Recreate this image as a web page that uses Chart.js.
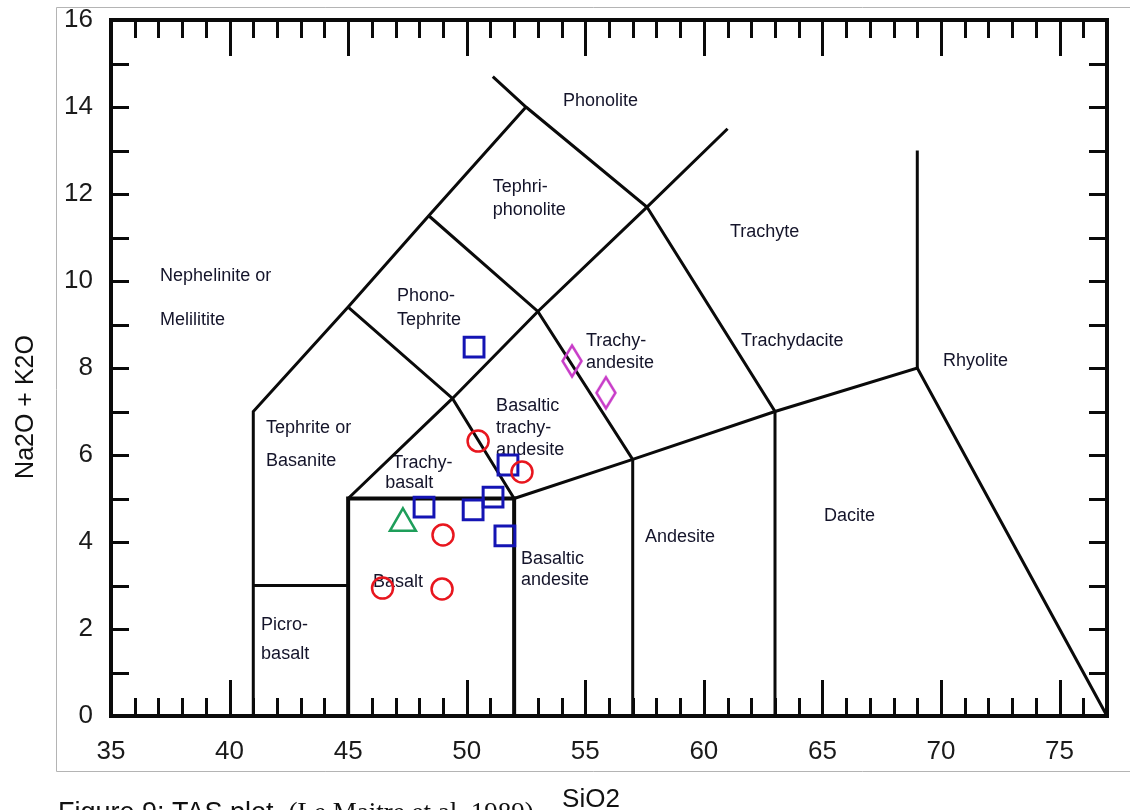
<!DOCTYPE html>
<html>
<head>
<meta charset="utf-8">
<title>TAS plot</title>
<script src="https://cdn.jsdelivr.net/npm/chart.js@4.4.1/dist/chart.umd.min.js"></script>
<style>
  html, body { margin: 0; padding: 0; background: #ffffff; }
  canvas { display: block; }
</style>
</head>
<body>
<canvas id="tas" width="1130" height="810"></canvas>
<script>
// Axis tick labels (wt%)
const xTickValues = [35, 40, 45, 50, 55, 60, 65, 70, 75];
const yTickValues = [0, 2, 4, 6, 8, 10, 12, 14, 16];

// Sample analyses: [SiO2, Na2O + K2O]
const circleSamples = [[46.45, 2.94], [48.96, 2.92], [49.0, 4.16], [50.48, 6.32], [52.33, 5.61]];
const squareSamples = [[50.31, 8.48], [51.74, 5.77], [51.11, 5.03], [50.27, 4.74], [48.20, 4.80], [51.61, 4.14]];
const diamondSamples = [[54.44, 8.16], [55.87, 7.43]];
const triangleSamples = [[47.31, 4.43]];

// TAS field boundaries (Le Maitre et al. 1989)
const foiditeBoundary = [[41, 0], [41, 7], [45, 9.4], [48.4, 11.5], [52.5, 14]];
const phonoliteBoundary = [[51.1, 14.7], [52.5, 14], [57.6, 11.7], [63, 7], [63, 0]];
const picrobasaltTop = [[41, 3], [45, 3]];
const basaltField = [[45, 0], [45, 5], [52, 5], [52, 0]];
const tephriteBoundary = [[45, 9.4], [49.4, 7.3], [52, 5]];
const trachyBoundary = [[45, 5], [49.4, 7.3], [53, 9.3], [57.6, 11.7], [61, 13.5]];
const phonotephriteBoundary = [[48.4, 11.5], [53, 9.3], [57, 5.9], [57, 0]];
const subalkalineBoundary = [[52, 5], [57, 5.9], [63, 7], [69, 8], [77, 0]];
const rhyoliteBoundary = [[69, 8], [69, 13]];

// Field names: [text, SiO2 at left edge, Na2O + K2O at text middle]
const fieldLabels = [
  ['Phonolite', 54.06, 14.14],
  ['Tephri-', 51.1, 12.16],
  ['phonolite', 51.1, 11.63],
  ['Trachyte', 61.1, 11.13],
  ['Nephelinite or', 37.07, 10.11],
  ['Melilitite', 37.07, 9.10],
  ['Phono-', 47.06, 9.66],
  ['Tephrite', 47.06, 9.10],
  ['Trachy-', 55.03, 8.62],
  ['andesite', 55.03, 8.11],
  ['Trachydacite', 61.57, 8.62],
  ['Rhyolite', 70.08, 8.16],
  ['Basaltic', 51.24, 7.13],
  ['trachy-', 51.24, 6.62],
  ['andesite', 51.24, 6.11],
  ['Tephrite or', 41.54, 6.62],
  ['Basanite', 41.54, 5.86],
  ['Trachy-', 46.86, 5.82],
  ['basalt', 46.56, 5.35],
  ['Andesite', 57.52, 4.11],
  ['Dacite', 65.07, 4.60],
  ['Basaltic', 52.29, 3.61],
  ['andesite', 52.29, 3.12],
  ['Basalt', 46.05, 3.08],
  ['Picro-', 41.33, 2.08],
  ['basalt', 41.33, 1.43]
];

const toXY = pts => pts.map(p => ({ x: p[0], y: p[1] }));

function boundary(pts, width) {
  return {
    type: 'line',
    data: toXY(pts),
    borderColor: '#0a0a0a',
    borderWidth: width,
    pointRadius: 0,
    showLine: true,
    fill: false,
    tension: 0,
    borderJoinStyle: 'miter',
    borderCapStyle: 'butt',
    order: 2
  };
}

// Tall diamond marker
function diamondImage() {
  const c = document.createElement('canvas');
  c.width = 28; c.height = 38;
  const g = c.getContext('2d');
  g.strokeStyle = '#c83cc8';
  g.lineWidth = 2.5;
  g.beginPath();
  g.moveTo(14, 3.5);
  g.lineTo(23.5, 19);
  g.lineTo(14, 34.5);
  g.lineTo(4.5, 19);
  g.closePath();
  g.stroke();
  return c;
}

// Scale boxes take exactly the room given to them
function fixBox(s, size) {
  if (s.isHorizontal()) s.height = size; else s.width = size;
  s.paddingTop = 0; s.paddingBottom = 0; s.paddingLeft = 0; s.paddingRight = 0;
}

const SANS = "'Liberation Sans', Arial, Helvetica, sans-serif";
const SERIF = "'Liberation Serif', 'Times New Roman', serif";

const tasDecor = {
  id: 'tasDecor',
  beforeDraw(chart) {
    const ctx = chart.ctx;
    ctx.save();
    ctx.fillStyle = '#ffffff';
    ctx.fillRect(0, 0, chart.width, chart.height);
    // outer frame
    ctx.strokeStyle = '#b4b4b4';
    ctx.lineWidth = 1;
    ctx.beginPath();
    ctx.moveTo(chart.width + 2, 7.5);
    ctx.lineTo(56.5, 7.5);
    ctx.lineTo(56.5, 771.5);
    ctx.lineTo(chart.width + 2, 771.5);
    ctx.stroke();
    ctx.restore();
  },
  beforeDatasetsDraw(chart) {
    const ctx = chart.ctx;
    const a = chart.chartArea;
    const xs = chart.scales.x, ys = chart.scales.y;
    ctx.save();
    // inward tick marks on all four sides
    ctx.strokeStyle = '#0a0a0a';
    ctx.lineWidth = 3;
    ctx.beginPath();
    for (let v = xs.min + 1; v < xs.max; v++) {
      const px = Math.round(xs.getPixelForValue(v)) + 0.5;
      const len = v % 5 === 0 ? 36 : 18;
      ctx.moveTo(px, a.bottom); ctx.lineTo(px, a.bottom - len);
      ctx.moveTo(px, a.top); ctx.lineTo(px, a.top + len);
    }
    for (let v = ys.min + 1; v < ys.max; v++) {
      const py = Math.round(ys.getPixelForValue(v)) + 0.5;
      ctx.moveTo(a.left, py); ctx.lineTo(a.left + 18, py);
      ctx.moveTo(a.right, py); ctx.lineTo(a.right - 18, py);
    }
    ctx.stroke();
    // plot box
    ctx.lineWidth = 4;
    ctx.strokeRect(a.left, a.top, a.right - a.left, a.bottom - a.top);

    // field names
    ctx.fillStyle = '#14142a';
    ctx.font = '18px ' + SANS;
    ctx.textAlign = 'left';
    ctx.textBaseline = 'middle';
    fieldLabels.forEach(l => {
      ctx.fillText(l[0], xs.getPixelForValue(l[1]), ys.getPixelForValue(l[2]));
    });

    // axis titles
    ctx.fillStyle = '#111111';
    ctx.font = '26px ' + SANS;
    ctx.textAlign = 'center';
    ctx.textBaseline = 'alphabetic';
    ctx.fillText('SiO2', 591, 807);
    ctx.save();
    ctx.translate(33, 407);
    ctx.rotate(-Math.PI / 2);
    ctx.font = '25px ' + SANS;
    ctx.fillText('Na2O + K2O', 0, 0);
    ctx.restore();

    // caption
    ctx.textAlign = 'left';
    ctx.font = '27px ' + SANS;
    ctx.fillText('Figure 9: TAS plot', 58, 821);
    const w = ctx.measureText('Figure 9: TAS plot  ').width;
    ctx.font = '27px ' + SERIF;
    ctx.fillText('(Le Maitre et al. 1989)', 58 + w, 821);
    ctx.restore();
  }
};

new Chart(document.getElementById('tas'), {
  type: 'scatter',
  data: {
    datasets: [
      {
        label: 'circles',
        data: toXY(circleSamples),
        pointStyle: 'circle',
        pointRadius: 10.5,
        borderColor: '#e8161e',
        backgroundColor: 'rgba(0,0,0,0)',
        borderWidth: 2.5,
        order: 0
      },
      {
        label: 'squares',
        data: toXY(squareSamples),
        pointStyle: 'rect',
        pointRadius: 14,
        borderColor: '#1414b4',
        backgroundColor: 'rgba(0,0,0,0)',
        borderWidth: 3,
        order: 0
      },
      {
        label: 'diamonds',
        data: toXY(diamondSamples),
        pointStyle: diamondImage(),
        pointRadius: 12,
        order: 0
      },
      {
        label: 'triangles',
        data: toXY(triangleSamples),
        pointStyle: 'triangle',
        pointRadius: 15,
        borderColor: '#1e9e5a',
        backgroundColor: 'rgba(0,0,0,0)',
        borderWidth: 2.5,
        order: 0
      },
      boundary(foiditeBoundary, 3),
      boundary(phonoliteBoundary, 3),
      boundary(picrobasaltTop, 3),
      boundary(basaltField, 4),
      boundary(tephriteBoundary, 3),
      boundary(trachyBoundary, 3),
      boundary(phonotephriteBoundary, 3),
      boundary(subalkalineBoundary, 3),
      boundary(rhyoliteBoundary, 3)
    ]
  },
  options: {
    responsive: false,
    animation: false,
    devicePixelRatio: 1,
    events: [],
    layout: { padding: { left: 0, top: 20, right: 23, bottom: 0 }, autoPadding: false },
    plugins: { legend: { display: false }, tooltip: { enabled: false } },
    scales: {
      x: {
        type: 'linear',
        position: 'bottom',
        min: 35,
        max: 77,
        grid: { display: false, drawTicks: false },
        border: { display: false },
        afterBuildTicks: s => { s.ticks = xTickValues.map(v => ({ value: v })); },
        afterFit: s => fixBox(s, 94),
        ticks: {
          autoSkip: false,
          maxRotation: 0,
          padding: 20,
          color: '#1a1a1a',
          font: { family: SANS, size: 26 }
        }
      },
      y: {
        type: 'linear',
        position: 'left',
        min: 0,
        max: 16,
        grid: { display: false, drawTicks: false },
        border: { display: false },
        afterBuildTicks: s => { s.ticks = yTickValues.map(v => ({ value: v })); },
        afterFit: s => fixBox(s, 111),
        ticks: {
          autoSkip: false,
          padding: 18,
          color: '#1a1a1a',
          font: { family: SANS, size: 26 }
        }
      }
    }
  },
  plugins: [tasDecor]
});
</script>
</body>
</html>
